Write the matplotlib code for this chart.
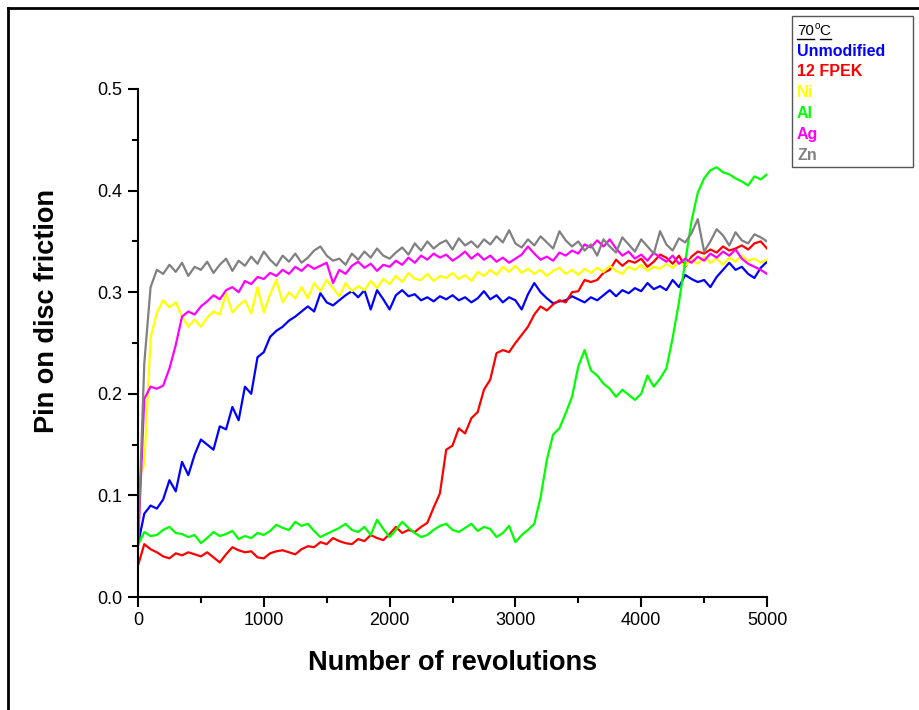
import numpy as np
import matplotlib
matplotlib.use("Agg")
import matplotlib.pyplot as plt
from matplotlib.lines import Line2D
from matplotlib.patches import Rectangle
from matplotlib.ticker import MultipleLocator

plt.rcParams['font.family'] = ['Liberation Sans', 'DejaVu Sans']

# revolutions sampled every 50
revs = np.arange(0, 5001, 50)

unmodified = [
    0.052, 0.082, 0.090, 0.087, 0.096, 0.115, 0.104, 0.133, 0.120, 0.140,
    0.155, 0.150, 0.145, 0.168, 0.165, 0.187, 0.174, 0.207, 0.200, 0.236,
    0.241, 0.256, 0.262, 0.266, 0.272, 0.276, 0.281, 0.286, 0.281, 0.299,
    0.290, 0.287, 0.292, 0.297, 0.301, 0.295, 0.302, 0.283, 0.302, 0.293,
    0.283, 0.297, 0.302, 0.296, 0.298, 0.292, 0.295, 0.291, 0.296, 0.293,
    0.297, 0.292, 0.295, 0.290, 0.294, 0.301, 0.293, 0.297, 0.290, 0.295,
    0.292, 0.283, 0.298, 0.309, 0.300, 0.294, 0.289, 0.291, 0.292, 0.296,
    0.293, 0.290, 0.295, 0.292, 0.297, 0.302, 0.296, 0.302, 0.299, 0.304,
    0.301, 0.309, 0.303, 0.306, 0.302, 0.312, 0.305, 0.317, 0.313, 0.310,
    0.312, 0.305, 0.315, 0.322, 0.329, 0.322, 0.325, 0.318, 0.314, 0.324,
    0.330]

fpek12 = [
    0.031, 0.052, 0.047, 0.044, 0.040, 0.038, 0.043, 0.041, 0.044, 0.042,
    0.040, 0.044, 0.039, 0.034, 0.042, 0.049, 0.046, 0.044, 0.045, 0.039,
    0.038, 0.043, 0.045, 0.046, 0.044, 0.042, 0.047, 0.050, 0.049, 0.054,
    0.052, 0.058, 0.055, 0.053, 0.052, 0.057, 0.055, 0.061, 0.058, 0.056,
    0.062, 0.069, 0.063, 0.066, 0.064, 0.069, 0.073, 0.088, 0.102, 0.145,
    0.149, 0.166, 0.161, 0.176, 0.182, 0.204, 0.214, 0.240, 0.243, 0.241,
    0.250, 0.258, 0.266, 0.278, 0.286, 0.282, 0.288, 0.292, 0.290, 0.300,
    0.301, 0.312, 0.310, 0.312, 0.319, 0.322, 0.332, 0.326, 0.331, 0.329,
    0.333, 0.325, 0.330, 0.337, 0.334, 0.328, 0.336, 0.325, 0.335, 0.340,
    0.338, 0.342, 0.339, 0.345, 0.341, 0.343, 0.346, 0.342, 0.348, 0.350,
    0.343]

ni = [
    0.115, 0.130, 0.255, 0.280, 0.292, 0.285, 0.290, 0.276, 0.266, 0.273,
    0.266, 0.275, 0.281, 0.278, 0.299, 0.280, 0.287, 0.292, 0.279, 0.305,
    0.280, 0.298, 0.312, 0.290, 0.300, 0.294, 0.305, 0.294, 0.309, 0.301,
    0.312, 0.304, 0.296, 0.309, 0.301, 0.306, 0.302, 0.311, 0.304, 0.313,
    0.308, 0.316, 0.310, 0.319, 0.313, 0.312, 0.318, 0.311, 0.316, 0.314,
    0.319, 0.313, 0.317, 0.311, 0.320, 0.316, 0.322, 0.317, 0.325, 0.320,
    0.326, 0.319, 0.323, 0.318, 0.322, 0.316, 0.321, 0.324, 0.318, 0.322,
    0.317, 0.323, 0.319, 0.324, 0.320, 0.326, 0.321, 0.318, 0.325, 0.322,
    0.327, 0.321, 0.325, 0.323, 0.328, 0.324, 0.330, 0.326, 0.332, 0.328,
    0.335, 0.329, 0.333, 0.327, 0.334, 0.330, 0.336, 0.331, 0.333, 0.329,
    0.332]

al = [
    0.051, 0.064, 0.060, 0.061, 0.066, 0.069, 0.063, 0.062, 0.059, 0.061,
    0.053, 0.058, 0.064, 0.060, 0.062, 0.065, 0.057, 0.060, 0.058, 0.063,
    0.061, 0.065, 0.071, 0.068, 0.066, 0.074, 0.070, 0.072, 0.065, 0.059,
    0.062, 0.065, 0.068, 0.072, 0.066, 0.064, 0.069, 0.061, 0.076, 0.067,
    0.059, 0.066, 0.074, 0.068, 0.063, 0.059, 0.061, 0.066, 0.070, 0.072,
    0.066, 0.064, 0.068, 0.072, 0.065, 0.069, 0.067, 0.059, 0.063, 0.070,
    0.054, 0.061, 0.066, 0.072, 0.098, 0.135, 0.160, 0.166, 0.181, 0.197,
    0.227, 0.243, 0.223, 0.218, 0.210, 0.205, 0.197, 0.204, 0.199, 0.194,
    0.200, 0.218, 0.207, 0.215, 0.225, 0.255, 0.290, 0.330, 0.370, 0.398,
    0.412, 0.420, 0.423, 0.418, 0.416, 0.412, 0.409, 0.405, 0.414, 0.411,
    0.416]

ag = [
    0.050, 0.195, 0.207, 0.205, 0.208, 0.225, 0.248, 0.276, 0.281, 0.278,
    0.286, 0.291, 0.297, 0.293, 0.302, 0.305, 0.300, 0.311, 0.308, 0.315,
    0.313, 0.319, 0.316, 0.322, 0.318, 0.325, 0.321, 0.327, 0.323, 0.326,
    0.329, 0.309, 0.322, 0.318, 0.326, 0.330, 0.324, 0.328, 0.321, 0.327,
    0.325, 0.331, 0.327, 0.334, 0.329, 0.336, 0.332, 0.338, 0.334, 0.337,
    0.331, 0.335, 0.340, 0.333, 0.338, 0.332, 0.336, 0.330, 0.334, 0.329,
    0.333, 0.337, 0.345, 0.338, 0.332, 0.335, 0.331, 0.339, 0.336, 0.341,
    0.338, 0.347, 0.344, 0.351, 0.345, 0.352, 0.343, 0.336, 0.340, 0.333,
    0.337, 0.331, 0.339, 0.334, 0.330, 0.336, 0.328, 0.333, 0.329, 0.335,
    0.331, 0.338, 0.334, 0.340, 0.336, 0.342, 0.333, 0.328, 0.325, 0.322,
    0.318]

zn = [
    0.050, 0.230, 0.305, 0.322, 0.318, 0.327, 0.320, 0.329, 0.316, 0.325,
    0.322, 0.330, 0.319, 0.327, 0.333, 0.321, 0.331, 0.326, 0.335, 0.328,
    0.340, 0.332, 0.326, 0.336, 0.330, 0.338, 0.329, 0.334, 0.341, 0.345,
    0.336, 0.331, 0.333, 0.327, 0.338, 0.332, 0.340, 0.334, 0.343, 0.336,
    0.333, 0.339, 0.344, 0.337, 0.348, 0.341, 0.350, 0.343, 0.348, 0.351,
    0.342, 0.353, 0.346, 0.350, 0.344, 0.352, 0.347, 0.355, 0.349, 0.361,
    0.348, 0.344, 0.352, 0.346, 0.355, 0.349, 0.343, 0.360, 0.351, 0.345,
    0.350, 0.341, 0.347, 0.336, 0.352, 0.345, 0.339, 0.354, 0.347, 0.340,
    0.352, 0.345, 0.338, 0.360, 0.347, 0.341, 0.353, 0.349, 0.358, 0.372,
    0.340, 0.350, 0.362, 0.356, 0.346, 0.359, 0.351, 0.348, 0.357, 0.354,
    0.350]

labels = ['Unmodified', '12 FPEK', 'Ni', 'Al', 'Ag', 'Zn']
colors = ['#0000FF', '#FF0000', '#FFFF00', '#00FF00', '#FF00FF', '#808080']
series = [unmodified, fpek12, ni, al, ag, zn]

W, H = 919, 710
fig = plt.figure(figsize=(W / 100, H / 100), dpi=100)
ax = fig.add_axes([138 / W, 1 - 597 / H, (767 - 138) / W, (597 - 89) / H])

for vals, c in zip(series, colors):
    ax.plot(revs, vals, color=c, lw=1.6)

ax.set_xlim(0, 5000)
ax.set_ylim(0, 0.5)
ax.xaxis.set_major_locator(MultipleLocator(1000))
ax.xaxis.set_minor_locator(MultipleLocator(500))
ax.yaxis.set_major_locator(MultipleLocator(0.1))
ax.yaxis.set_minor_locator(MultipleLocator(0.05))
ax.yaxis.set_major_formatter(plt.FormatStrFormatter('%.1f'))
for s in ['top', 'right']:
    ax.spines[s].set_visible(False)
for s in ['left', 'bottom']:
    ax.spines[s].set_linewidth(1.5)
ax.tick_params(which='major', direction='out', length=7, width=1.5, labelsize=13)
ax.tick_params(which='minor', direction='out', length=4, width=1.5)
ax.tick_params(axis='y', pad=4)
ax.tick_params(axis='x', pad=4)
ax.set_xlabel('Number of revolutions', fontsize=19.5, fontweight='bold')
ax.set_ylabel('Pin on disc friction', fontsize=19.5, fontweight='bold')
ax.xaxis.set_label_coords(0.5, -(663 - 597) / 508, transform=ax.transAxes)
ax.xaxis.label.set_va('center')
ax.yaxis.set_label_coords(-(138 - 47) / 629, (597 - 311) / 508, transform=ax.transAxes)
ax.yaxis.label.set_va('center')


def fx(px):
    return px / W


def fy(py):
    return 1 - py / H


# outer frame
fig.add_artist(Line2D([fx(8), 1], [fy(8), fy(8)], color='black', lw=2))
fig.add_artist(Line2D([fx(8), fx(8)], [fy(8), 0], color='black', lw=2))

# legend box
fig.add_artist(Rectangle((fx(792), fy(167)), fx(913) - fx(792), fy(16) - fy(167),
                         facecolor='white', edgecolor='#555555', lw=1))

t70 = fig.text(fx(797), fy(31), '70', fontsize=11, va='center', ha='left')
fig.canvas.draw()
r = fig.canvas.get_renderer()
b70 = t70.get_window_extent(r)
tdeg = fig.text(b70.x1 / W + 0.0005, fy(26), 'o', fontsize=7, va='center', ha='left')
bdeg = tdeg.get_window_extent(r)
tC = fig.text(bdeg.x1 / W, fy(31), 'C', fontsize=11, va='center', ha='left')
bC = tC.get_window_extent(r)
uy = b70.y0 / H - 0.002
fig.add_artist(Line2D([b70.x0 / W, b70.x1 / W], [uy, uy], color='black', lw=1))
fig.add_artist(Line2D([bC.x0 / W, bC.x1 / W], [uy, uy], color='black', lw=1))

for i, (lab, c) in enumerate(zip(labels, colors)):
    fig.text(fx(797), fy(51 + i * 20.8), lab, color=c, fontsize=11.5,
             fontweight='bold', va='center', ha='left')

fig.savefig('out.png', dpi=100)
